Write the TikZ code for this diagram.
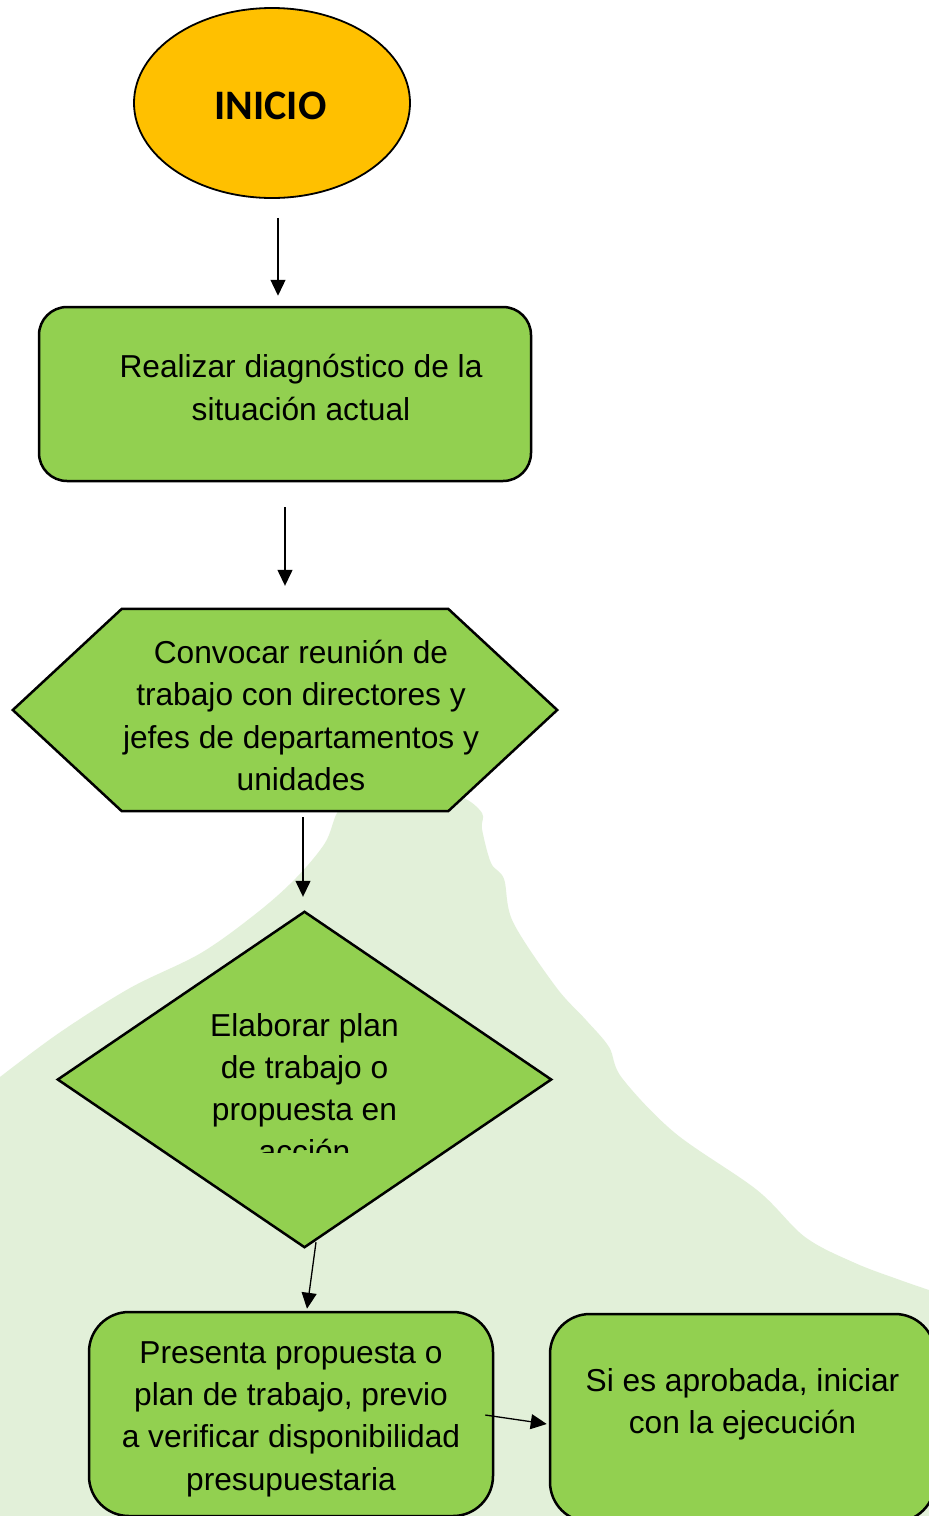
\documentclass[tikz,border=0pt]{standalone}
\usepackage{fontspec}
\setmainfont{Liberation Sans}
\newfontfamily\titlefont{Carlito}
\usetikzlibrary{shapes.geometric,arrows.meta,calc}
\definecolor{blobgreen}{HTML}{E2F0D9}
\definecolor{boxgreen}{HTML}{92D050}
\definecolor{startorange}{HTML}{FFC000}
\begin{document}
\begin{tikzpicture}[x=1pt,y=-1pt,
  shapeline/.style={draw=black,line width=2.5pt,fill=boxgreen},
  rbox/.style={shapeline,rectangle,inner sep=0pt},
  frame/.style={rectangle,inner sep=0pt,draw=none},
  txt/.style={anchor=base,inner sep=0pt,font=\fontsize{31.7}{42.3}\selectfont},
  arr/.style={draw=black,line width=1.3pt,-{Triangle[length=16pt,width=15pt]}}
]
\useasboundingbox (0,0) rectangle (929,1516);
\clip (0,0) rectangle (929,1516);
\fill[white] (0,0) rectangle (929,1516);
% background blob
\fill[blobgreen] plot[smooth,tension=0.55] coordinates {(0,1077) (59,1033) (130,988) (201,953) (258,912) (296,878) (325,843) (337,813) (352,798) (420,793) (461,797) (482,813) (482,829) (491,863) (504,879) (513,922) (556,987) (586,1020) (609,1047) (622,1078) (675,1133) (757,1190) (805,1237) (855,1263) (900,1280) (929,1290)} -- (929,1516) -- (0,1516) -- cycle;

% INICIO
\node[ellipse,draw=black,line width=1.8pt,fill=startorange,minimum width=276pt,minimum height=190pt,inner sep=0pt] (inicio) at (272,103) {};
\node[anchor=base,inner sep=0pt,font=\titlefont\bfseries\fontsize{42}{50}\selectfont] (inicio-t) at (270.5,119) {INICIO};

% diagnostic box
\node[rbox,rounded corners=28pt,minimum width=492pt,minimum height=174pt] (diag) at (285,394) {};
\node[txt] (diag-t) at (301,377.7) {\begin{tabular}[t]{@{}c@{}}Realizar diagnóstico de la\\situación actual\end{tabular}};

% hexagon
\node[frame,minimum width=544pt,minimum height=202pt] (hex) at (285,710) {};
\draw[shapeline,line join=miter] (hex.west) -- ($(hex.north west)+(109,0)$) -- ($(hex.north east)+(-109,0)$) -- (hex.east) -- ($(hex.south east)+(-109,0)$) -- ($(hex.south west)+(109,0)$) -- cycle;
\node[txt] (hex-t) at (301,663.5) {\begin{tabular}[t]{@{}c@{}}Convocar reunión de\\trabajo con directores y\\jefes de departamentos y\\unidades\end{tabular}};

% diamond
\node[frame,minimum width=493pt,minimum height=335pt] (dia) at (304.5,1079.5) {};
\draw[shapeline,line join=miter] (dia.north) -- (dia.east) -- (dia.south) -- (dia.west) -- cycle;
\begin{scope}
\clip (0,990) rectangle (929,1152);
\node[txt] (dia-t) at (304.5,1036) {\begin{tabular}[t]{@{}c@{}}Elaborar plan\\de trabajo o\\propuesta en\\acción\end{tabular}};
\end{scope}

% presenta box
\node[rbox,rounded corners=40pt,minimum width=404pt,minimum height=204pt] (pres) at (291,1414) {};
\node[txt] (pres-t) at (291,1363.3) {\begin{tabular}[t]{@{}c@{}}Presenta propuesta o\\plan de trabajo, previo\\a verificar disponibilidad\\presupuestaria\end{tabular}};

% si es aprobada box
\node[rbox,rounded corners=40pt,minimum width=385pt,minimum height=208pt] (si) at (742.5,1418) {};
\node[txt] (si-t) at (742.5,1391) {\begin{tabular}[t]{@{}c@{}}Si es aprobada, iniciar\\con la ejecución\end{tabular}};

% connectors
\draw[arr] ($(inicio.south)+(6,19)$) -- ($(diag.north)+(-7,-10)$);
\draw[arr] ($(diag.south)+(0,25)$) -- ($(hex.north)+(0,-23)$);
\draw[arr] ($(hex.south)+(18,6)$) -- ($(dia.north)+(-1.5,-15)$);
\draw[arr] ($(dia.south)+(11.5,-5)$) -- ($(pres.north)+(16,-2)$);
\draw[arr] ($(pres.east)+(-9,1)$) -- ($(si.west)+(-2,6)$);
\end{tikzpicture}
\end{document}
